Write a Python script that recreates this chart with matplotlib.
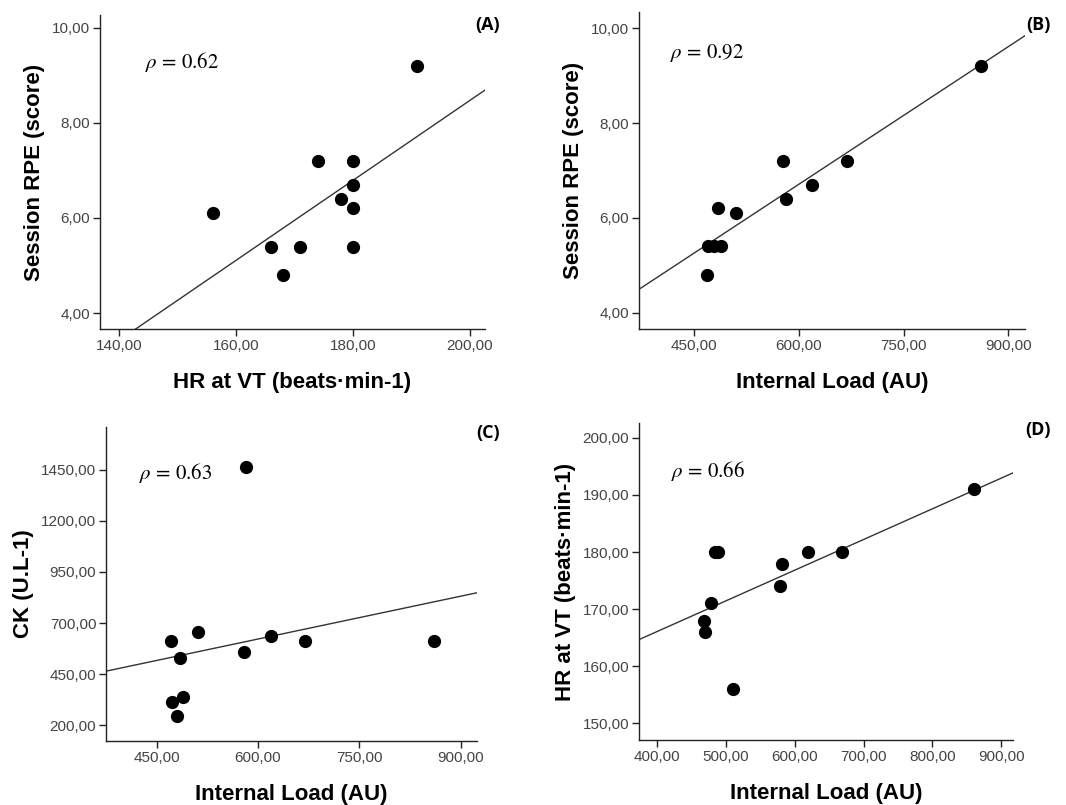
#!/usr/bin/env python3

import matplotlib
matplotlib.use("Agg")
import matplotlib.pyplot as plt
import numpy as np

# one entry per athlete (n = 11)
internal_load = [469, 470, 478, 484, 488, 510, 578, 581, 619, 669, 861]
hr_at_vt = [168, 166, 171, 180, 180, 156, 174, 178, 180, 180, 191]
session_rpe = [4.8, 5.4, 5.4, 6.2, 5.4, 6.1, 7.2, 6.4, 6.7, 7.2, 9.2]
# CK read separately (x positions in panel C)
ck_load = [471, 472, 480, 485, 489, 511, 579, 582, 619, 670, 860]
ck_values = [610, 315, 246, 527, 339, 658, 557, 1463, 636, 614, 610]

rho_values = ["0.62", "0.92", "0.63", "0.66"]
panel_names = ["(A)", "(B)", "(C)", "(D)"]

ticks_a_x = [140, 160, 180, 200]
ticks_rpe = [4, 6, 8, 10]
ticks_load = [450, 600, 750, 900]
ticks_ck = [200, 450, 700, 950, 1200, 1450]
ticks_load_d = [400, 500, 600, 700, 800, 900]
ticks_hr = [150, 160, 170, 180, 190, 200]

W, H = 1066, 805
plt.rcParams["font.family"] = ["Liberation Sans", "DejaVu Sans"]
plt.rcParams["mathtext.fontset"] = "stix"


def fmt(v):
    return f"{v:.2f}".replace(".", ",")


def px_box(left, top, right, bottom):
    return [left / W, 1 - bottom / H, (right - left) / W, (bottom - top) / H]


def panel(fig, box, x, y, xticks, yticks, xlim, ylim, xlabel, ylabel):
    ax = fig.add_axes(px_box(*box))
    for side in ("top", "right"):
        ax.spines[side].set_visible(False)
    for side in ("left", "bottom"):
        ax.spines[side].set_color("#222222")
        ax.spines[side].set_linewidth(1.0)

    ax.plot(x, y, "o", color="black", ms=8.5, zorder=3)

    slope, icpt = np.polyfit(x, y, 1)
    xs = np.array(xlim)
    ax.plot(xs, slope * xs + icpt, color="#333333", lw=1.0, zorder=2)

    ax.set_xlim(xlim)
    ax.set_ylim(ylim)
    ax.set_xticks(xticks)
    ax.set_xticklabels([fmt(v) for v in xticks])
    ax.set_yticks(yticks)
    ax.set_yticklabels([fmt(v) for v in yticks])
    ax.tick_params(direction="out", length=5, width=1, color="#222222",
                   labelsize=11, labelcolor="#444444", pad=2)
    ax.set_xlabel(xlabel, fontsize=16, fontweight="bold", labelpad=14)
    ax.set_ylabel(ylabel, fontsize=16, fontweight="bold", labelpad=5)
    return ax


def main():
    fig = plt.figure(figsize=(W / 100, H / 100), dpi=100)

    panel(fig, (100, 15, 485, 329), hr_at_vt, session_rpe, ticks_a_x, ticks_rpe,
          (136.7, 202.6), (3.665, 10.27), "HR at VT (beats·min-1)", "Session RPE (score)")
    panel(fig, (639, 12, 1025, 329), internal_load, session_rpe, ticks_load, ticks_rpe,
          (371.2, 923.9), (3.66, 10.34), "Internal Load (AU)", "Session RPE (score)")
    panel(fig, (106, 427, 477, 741), ck_load, ck_values, ticks_load, ticks_ck,
          (375, 924), (123.4, 1658.6), "Internal Load (AU)", "CK (U.L-1)")
    panel(fig, (639, 423, 1013, 740), internal_load, hr_at_vt, ticks_load_d, ticks_hr,
          (373.9, 917), (147.1, 202.6), "Internal Load (AU)", "HR at VT (beats·min-1)")

    rho_pos = [(145, 62), (670, 53), (139, 473), (671, 471)]
    for (px, py), r in zip(rho_pos, rho_values):
        fig.text(px / W, 1 - py / H, rf"$\rho$ = {r}", fontsize=15,
                 family="STIXGeneral", ha="left", va="center")

    name_pos = [(500, 25), (1051, 25), (500, 433), (1051, 430)]
    for (px, py), name in zip(name_pos, panel_names):
        fig.text(px / W, 1 - py / H, name, fontsize=13, fontweight="bold",
                 family=["Open Sans", "DejaVu Sans"], ha="right", va="center")

    fig.savefig("out.png", dpi=100)
    plt.close(fig)


if __name__ == "__main__":
    main()
